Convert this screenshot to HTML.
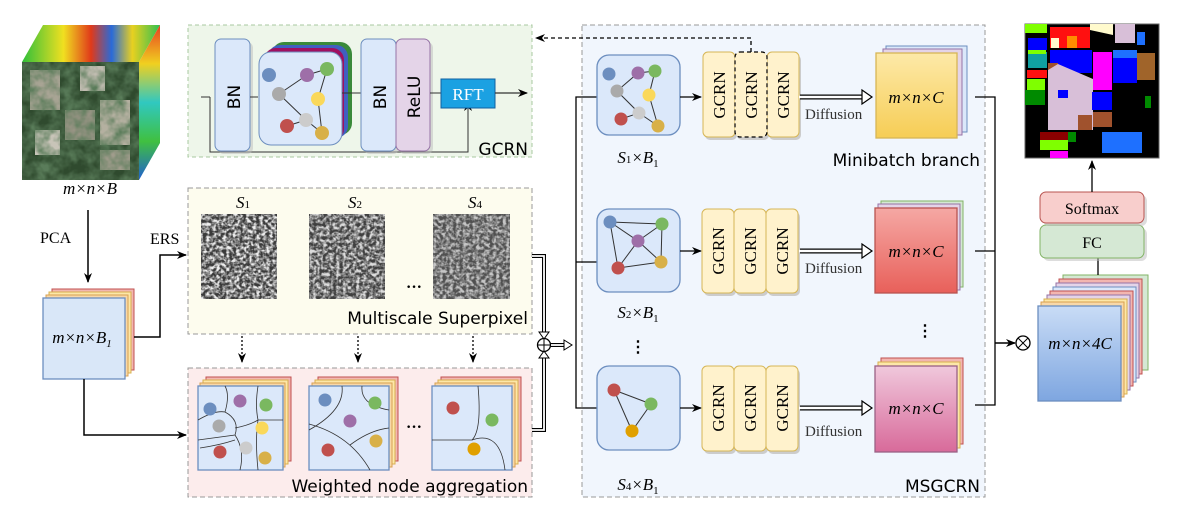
<!DOCTYPE html>
<html><head><meta charset="utf-8"><style>
html,body{margin:0;padding:0;background:#fff;}
svg{display:block;}
.it{font-family:"Liberation Serif",serif;font-style:italic;}
.sr{font-family:"Liberation Serif",serif;}
.cm{font-family:"DejaVu Sans",sans-serif;}
</style></head><body>
<svg width="1180" height="517" viewBox="0 0 1180 517" xmlns="http://www.w3.org/2000/svg">
<defs>
<marker id="ah" markerWidth="10" markerHeight="10" refX="9" refY="5" orient="auto" markerUnits="userSpaceOnUse"><path d="M0,1 L10,5 L0,9 L3,5 Z" fill="#000"/></marker>
<filter id="noise" x="0" y="0" width="100%" height="100%"><feTurbulence type="fractalNoise" baseFrequency="0.3" numOctaves="2" seed="3"/><feColorMatrix type="matrix" values="0 0 0 0 0.85  0 0 0 0 0.85  0 0 0 0 0.85  2 2 0 0 -1.6"/><feComposite operator="in" in2="SourceGraphic"/></filter>
<filter id="noise2" x="0" y="0" width="100%" height="100%"><feTurbulence type="fractalNoise" baseFrequency="0.08" numOctaves="3" seed="7"/><feColorMatrix type="matrix" values="0 0 0 0 0.1  0 0 0 0 0.2  0 0 0 0 0.1  2 0 0 0 -0.6"/><feComposite operator="in" in2="SourceGraphic"/></filter>
<linearGradient id="gy" x1="0" y1="0" x2="0" y2="1"><stop offset="0" stop-color="#fde9a8"/><stop offset="1" stop-color="#f6cd55"/></linearGradient>
<linearGradient id="gr" x1="0" y1="0" x2="0" y2="1"><stop offset="0" stop-color="#f5a8a4"/><stop offset="1" stop-color="#e8605a"/></linearGradient>
<linearGradient id="gp" x1="0" y1="0" x2="0" y2="1"><stop offset="0" stop-color="#f0c8dc"/><stop offset="1" stop-color="#d86a9a"/></linearGradient>
<linearGradient id="gb" x1="0" y1="0" x2="0" y2="1"><stop offset="0" stop-color="#c9dcf6"/><stop offset="1" stop-color="#7ea6e0"/></linearGradient>
<linearGradient id="cubetop" x1="0" y1="0" x2="1" y2="0"><stop offset="0" stop-color="#2fbf3a"/><stop offset="0.3" stop-color="#f0e020"/><stop offset="0.5" stop-color="#e03a1a"/><stop offset="0.65" stop-color="#2a6ad8"/><stop offset="0.8" stop-color="#e8d020"/><stop offset="1" stop-color="#30c050"/></linearGradient>
<linearGradient id="cubeside" x1="0" y1="0" x2="0" y2="1"><stop offset="0" stop-color="#e84020"/><stop offset="0.25" stop-color="#f0d020"/><stop offset="0.5" stop-color="#30c8c0"/><stop offset="0.75" stop-color="#40c040"/><stop offset="1" stop-color="#2060d0"/></linearGradient>
</defs>

<!-- Cube -->
<polygon points="22,62 43,25 160,25 139,62" fill="url(#cubetop)"/>
<polygon points="139,62 160,25 160,143 139,180" fill="url(#cubeside)"/>
<rect x="22" y="62" width="117" height="118" fill="#2f4a2e"/>
<rect x="30" y="70" width="30" height="40" fill="#a8a494"/><rect x="80" y="66" width="25" height="25" fill="#c0bcb0"/><rect x="65" y="110" width="30" height="30" fill="#989484"/><rect x="100" y="100" width="30" height="45" fill="#b4b0a0"/><rect x="35" y="130" width="25" height="25" fill="#c8c4b8"/><rect x="100" y="150" width="30" height="20" fill="#a09c8c"/>
<rect x="22" y="62" width="117" height="118" fill="#000" filter="url(#noise2)"/>
<text x="90" y="194" class="it" font-size="17" text-anchor="middle">m×n×B</text>

<!-- PCA -->
<text x="40" y="243" class="sr" font-size="16">PCA</text>
<line x1="88" y1="210" x2="88" y2="282" stroke="#000" stroke-width="1.5" marker-end="url(#ah)"/>

<!-- m x n x B1 stack -->
<rect x="52" y="289" width="82" height="81" fill="#f2b6b0" stroke="#c05050"/>
<rect x="49" y="292" width="82" height="81" fill="#fde7a8" stroke="#d8b050"/>
<rect x="46" y="295" width="82" height="81" fill="#f8d8a8" stroke="#d8a050"/>
<rect x="43" y="298" width="82" height="81" fill="#d9e7f8" stroke="#6c8ebf" stroke-width="1.3"/>
<text x="82" y="343" class="it" font-size="17" text-anchor="middle">m×n×B<tspan font-size="11" dy="4">1</tspan></text>

<!-- ERS path -->
<text x="150" y="244" class="sr" font-size="16">ERS</text>
<polyline points="134,337 160,337 160,255 186,255" fill="none" stroke="#000" stroke-width="1.5" marker-end="url(#ah)"/>
<polyline points="84,379 84,435 186,435" fill="none" stroke="#000" stroke-width="1.5" marker-end="url(#ah)"/>

<!-- GCRN box -->
<rect x="188" y="25" width="344" height="132" fill="#eef6ea" stroke="#a8c8a0" stroke-dasharray="4,3"/>
<polyline points="201,97 210,97" fill="none" stroke="#333" stroke-width="1"/>
<polyline points="210,97 210,152 468,152 468,102" fill="none" stroke="#333" stroke-width="1" marker-end="url(#ah)"/>
<rect x="218" y="42" width="35" height="112" rx="6" fill="#bbb" opacity="0.5"/>
<rect x="215" y="39" width="35" height="112" rx="6" fill="#dbe8fa" stroke="#6c8ebf"/>
<text transform="translate(240,97) rotate(-90)" class="cm" font-size="17" text-anchor="middle">BN</text>
<line x1="250" y1="97" x2="258" y2="97" stroke="#333"/>
<rect x="272" y="42" width="80" height="93" rx="12" fill="#3a8a3a"/>
<rect x="268" y="45" width="80" height="93" rx="12" fill="#4060c0"/>
<rect x="264" y="48" width="80" height="93" rx="12" fill="#a01060"/>
<rect x="259" y="52" width="83" height="93" rx="12" fill="#dbe8fa" stroke="#6c8ebf"/>
<g stroke="#333" stroke-width="1"><line x1="279" y1="94" x2="307" y2="75"/><line x1="307" y1="75" x2="327" y2="69"/><line x1="327" y1="69" x2="318" y2="99"/><line x1="279" y1="94" x2="306" y2="120"/><line x1="287" y1="126" x2="306" y2="120"/><line x1="306" y1="120" x2="322" y2="133"/><line x1="318" y1="99" x2="322" y2="133"/></g>
<circle cx="269" cy="75" r="7" fill="#6c8ebf"/><circle cx="307" cy="75" r="7" fill="#9e6fa8"/><circle cx="327" cy="69" r="7" fill="#7ab860"/><circle cx="279" cy="94" r="7" fill="#aaa"/><circle cx="318" cy="99" r="7" fill="#fad85a"/><circle cx="287" cy="126" r="7" fill="#c0504d"/><circle cx="306" cy="120" r="7" fill="#ccc"/><circle cx="322" cy="133" r="7" fill="#d8b048"/>
<line x1="342" y1="93" x2="361" y2="93" stroke="#333"/>
<rect x="364" y="42" width="35" height="112" rx="6" fill="#bbb" opacity="0.5"/>
<rect x="361" y="39" width="35" height="112" rx="6" fill="#dbe8fa" stroke="#6c8ebf"/>
<text transform="translate(386,97) rotate(-90)" class="cm" font-size="17" text-anchor="middle">BN</text>
<rect x="399" y="42" width="34" height="112" rx="6" fill="#bbb" opacity="0.5"/>
<rect x="396" y="39" width="34" height="112" rx="6" fill="#e4d4e8" stroke="#9673a6"/>
<text transform="translate(420,97) rotate(-90)" class="cm" font-size="17" text-anchor="middle">ReLU</text>
<line x1="430" y1="93" x2="441" y2="93" stroke="#333"/>
<rect x="441" y="79" width="54" height="29" fill="#1ba1e2" stroke="#1060a0"/>
<text x="468" y="100" class="sr" font-size="17" fill="#fff" text-anchor="middle">RFT</text>
<line x1="495" y1="93" x2="527" y2="93" stroke="#333" stroke-width="1.2" marker-end="url(#ah)"/>
<text x="528" y="155" class="cm" font-size="17" text-anchor="end">GCRN</text>

<!-- Multiscale superpixel -->
<rect x="188" y="188" width="344" height="146" fill="#fdfcee" stroke="#999" stroke-dasharray="5,3"/>
<text x="243" y="208" class="it" font-size="17" text-anchor="middle">S<tspan font-size="11" font-style="normal">1</tspan></text>
<text x="355" y="208" class="it" font-size="17" text-anchor="middle">S<tspan font-size="11" font-style="normal">2</tspan></text>
<text x="475" y="208" class="it" font-size="17" text-anchor="middle">S<tspan font-size="11" font-style="normal">4</tspan></text>
<g>
<rect x="201" y="214" width="76" height="85" fill="#3a3a3a"/><rect x="201" y="214" width="76" height="85" fill="#fff" filter="url(#noise)"/>
<rect x="309" y="214" width="76" height="85" fill="#3f3f3f"/><rect x="309" y="214" width="76" height="85" fill="#fff" filter="url(#noise)" opacity="0.9"/>
<rect x="433" y="214" width="77" height="85" fill="#505050"/><rect x="433" y="214" width="77" height="85" fill="#fff" filter="url(#noise)" opacity="0.75"/>
</g>
<text x="414" y="292" class="sr" font-size="16" font-weight="bold" text-anchor="middle">···</text>
<text x="528" y="324" class="cm" font-size="17" text-anchor="end">Multiscale Superpixel</text>

<!-- dotted arrows -->
<g stroke="#000" stroke-width="1.3" stroke-dasharray="2,2"><line x1="242" y1="336" x2="242" y2="362" marker-end="url(#ah)"/><line x1="358" y1="336" x2="358" y2="362" marker-end="url(#ah)"/><line x1="473" y1="336" x2="473" y2="362" marker-end="url(#ah)"/></g>

<!-- Weighted node aggregation -->
<rect x="188" y="368" width="344" height="129" fill="#fcecec" stroke="#999" stroke-dasharray="5,3"/>
<rect x="206" y="377" width="85" height="84" fill="#f2b6b0" stroke="#c05050"/>
<rect x="203" y="380" width="85" height="84" fill="#fde7a8" stroke="#d8b050"/>
<rect x="200" y="383" width="85" height="84" fill="#f8d8a8" stroke="#d8a050"/>
<rect x="198" y="386" width="85" height="84" fill="#dbe8fa" stroke="#6c8ebf" stroke-width="1.3"/>
<g fill="none" stroke="#333" stroke-width="0.8"><path d="M198,420 Q215,410 225,412 Q230,395 225,386"/><path d="M225,412 Q240,420 235,435 L198,440"/><path d="M235,428 Q250,425 258,420 L283,420"/><path d="M258,386 Q255,405 258,420"/><path d="M235,435 Q245,450 240,470"/><path d="M258,420 Q255,440 258,470"/><path d="M200,448 Q220,445 235,440"/></g>
<circle cx="210" cy="409" r="6.5" fill="#6c8ebf"/><circle cx="240" cy="401" r="6.5" fill="#9e6fa8"/><circle cx="266" cy="405" r="6.5" fill="#7ab860"/><circle cx="219" cy="426" r="6.5" fill="#aaa"/><circle cx="262" cy="428" r="6.5" fill="#fad85a"/><circle cx="220" cy="452" r="6.5" fill="#c0504d"/><circle cx="246" cy="448" r="6.5" fill="#ccc"/><circle cx="265" cy="458" r="6.5" fill="#d8b048"/>
<rect x="318" y="377" width="80" height="84" fill="#f2b6b0" stroke="#c05050"/>
<rect x="315" y="380" width="80" height="84" fill="#fde7a8" stroke="#d8b050"/>
<rect x="312" y="383" width="80" height="84" fill="#f8d8a8" stroke="#d8a050"/>
<rect x="309" y="386" width="80" height="84" fill="#dbe8fa" stroke="#6c8ebf" stroke-width="1.3"/>
<g fill="none" stroke="#333" stroke-width="0.8"><path d="M342,386 Q345,410 309,430"/><path d="M362,386 Q360,405 389,410"/><path d="M309,424 Q350,435 370,470"/><path d="M350,445 Q370,430 389,428"/></g>
<circle cx="325" cy="400" r="6.5" fill="#6c8ebf"/><circle cx="375" cy="403" r="6.5" fill="#7ab860"/><circle cx="350" cy="421" r="6.5" fill="#9e6fa8"/><circle cx="328" cy="450" r="6.5" fill="#c0504d"/><circle cx="376" cy="441" r="6.5" fill="#d8b048"/>
<text x="414" y="432" class="sr" font-size="16" font-weight="bold" text-anchor="middle">···</text>
<rect x="441" y="377" width="80" height="84" fill="#f2b6b0" stroke="#c05050"/>
<rect x="438" y="380" width="80" height="84" fill="#fde7a8" stroke="#d8b050"/>
<rect x="435" y="383" width="80" height="84" fill="#f8d8a8" stroke="#d8a050"/>
<rect x="432" y="386" width="80" height="84" fill="#dbe8fa" stroke="#6c8ebf" stroke-width="1.3"/>
<g fill="none" stroke="#333" stroke-width="0.8"><path d="M478,386 Q482,430 472,440 L432,440"/><path d="M472,440 Q500,430 505,470"/></g>
<circle cx="453" cy="408" r="6.5" fill="#c0504d"/><circle cx="492" cy="420" r="6.5" fill="#7ab860"/><circle cx="474" cy="449" r="6.5" fill="#e0a000"/>
<text x="528" y="492" class="cm" font-size="17" text-anchor="end">Weighted node aggregation</text>

<!-- double lines to ⊕ -->
<g fill="none" stroke="#000" stroke-width="4"><polyline points="532,256 544,256 544,334"/><polyline points="532,430 544,430 544,356"/></g>
<g fill="none" stroke="#fff" stroke-width="1.8"><polyline points="532,256 544,256 544,334"/><polyline points="532,430 544,430 544,356"/></g>
<polygon points="539,332 549,332 544,339" fill="#fff" stroke="#000"/>
<polygon points="539,358 549,358 544,351" fill="#fff" stroke="#000"/>
<circle cx="544" cy="345" r="6.5" fill="#fff" stroke="#000" stroke-width="1.3"/>
<line x1="537.5" y1="345" x2="550.5" y2="345" stroke="#000"/><line x1="544" y1="338.5" x2="544" y2="351.5" stroke="#000"/>
<line x1="551" y1="345" x2="565" y2="345" stroke="#000" stroke-width="4"/><line x1="551" y1="345" x2="566" y2="345" stroke="#fff" stroke-width="1.8"/>
<polygon points="564,340 572,345 564,350" fill="#fff" stroke="#000"/>

<!-- MSGCRN box -->
<rect x="582" y="25" width="403" height="472" fill="#f1f6fd" stroke="#999" stroke-dasharray="5,3"/>
<text x="980" y="492" class="cm" font-size="17" text-anchor="end">MSGCRN</text>
<polyline points="597,97 576,97 576,408 597,408" fill="none" stroke="#000" stroke-width="1.3"/>
<line x1="576" y1="262" x2="597" y2="262" stroke="#000" stroke-width="1.3"/>
<polyline points="751,52 751,38 536,38" fill="none" stroke="#000" stroke-width="1.3" stroke-dasharray="4,3" marker-end="url(#ah)"/>

<!-- Graph boxes -->
<rect x="597" y="55" width="83" height="80" rx="12" fill="#dbe8fa" stroke="#6c8ebf" stroke-width="1.3"/>
<g stroke="#333"><line x1="617" y1="91" x2="638" y2="73"/><line x1="638" y1="73" x2="655" y2="71"/><line x1="655" y1="71" x2="649" y2="95"/><line x1="617" y1="91" x2="639" y2="113"/><line x1="621" y1="119" x2="639" y2="113"/><line x1="639" y1="113" x2="658" y2="126"/><line x1="649" y1="95" x2="658" y2="126"/></g>
<circle cx="609" cy="74" r="6.5" fill="#6c8ebf"/><circle cx="638" cy="73" r="6.5" fill="#9e6fa8"/><circle cx="655" cy="71" r="6.5" fill="#7ab860"/><circle cx="617" cy="91" r="6.5" fill="#aaa"/><circle cx="649" cy="95" r="6.5" fill="#fad85a"/><circle cx="621" cy="119" r="6.5" fill="#c0504d"/><circle cx="639" cy="113" r="6.5" fill="#ccc"/><circle cx="658" cy="126" r="6.5" fill="#d8b048"/>
<text x="638" y="163" class="it" font-size="17" text-anchor="middle">S<tspan font-size="11" font-style="normal">1</tspan>×B<tspan font-size="11" font-style="normal" dy="4">1</tspan></text>

<rect x="597" y="209" width="83" height="83" rx="12" fill="#dbe8fa" stroke="#6c8ebf" stroke-width="1.3"/>
<g stroke="#333"><line x1="610" y1="222" x2="662" y2="224"/><line x1="610" y1="222" x2="618" y2="268"/><line x1="610" y1="222" x2="638" y2="241"/><line x1="638" y1="241" x2="662" y2="224"/><line x1="638" y1="241" x2="661" y2="262"/><line x1="638" y1="241" x2="618" y2="268"/><line x1="618" y1="268" x2="661" y2="262"/><line x1="662" y1="224" x2="661" y2="262"/></g>
<circle cx="610" cy="222" r="6.5" fill="#6c8ebf"/><circle cx="662" cy="224" r="6.5" fill="#7ab860"/><circle cx="638" cy="241" r="6.5" fill="#9e6fa8"/><circle cx="661" cy="262" r="6.5" fill="#d8b048"/><circle cx="618" cy="268" r="6.5" fill="#c0504d"/>
<text x="638" y="318" class="it" font-size="17" text-anchor="middle">S<tspan font-size="11" font-style="normal">2</tspan>×B<tspan font-size="11" font-style="normal" dy="4">1</tspan></text>
<text x="638" y="352" class="sr" font-size="16" text-anchor="middle" font-weight="bold">⋮</text>

<rect x="597" y="366" width="83" height="84" rx="12" fill="#dbe8fa" stroke="#6c8ebf" stroke-width="1.3"/>
<g stroke="#333"><line x1="614" y1="390" x2="651" y2="404"/><line x1="614" y1="390" x2="632" y2="431"/><line x1="632" y1="431" x2="651" y2="404"/></g>
<circle cx="614" cy="390" r="6.5" fill="#c0504d"/><circle cx="651" cy="404" r="6.5" fill="#7ab860"/><circle cx="632" cy="431" r="6.5" fill="#e0a000"/>
<text x="638" y="490" class="it" font-size="17" text-anchor="middle">S<tspan font-size="11" font-style="normal">4</tspan>×B<tspan font-size="11" font-style="normal" dy="4">1</tspan></text>

<g stroke="#000" stroke-width="1.3"><line x1="680" y1="97" x2="701" y2="97" marker-end="url(#ah)"/><line x1="680" y1="251" x2="701" y2="251" marker-end="url(#ah)"/><line x1="680" y1="408" x2="701" y2="408" marker-end="url(#ah)"/></g>

<!-- GCRN triples -->
<g class="sr" font-size="17">
<rect x="705" y="55" width="32" height="85" rx="5" fill="#ccc"/><rect x="737" y="55" width="32" height="85" rx="5" fill="#ccc"/><rect x="769" y="55" width="32" height="85" rx="5" fill="#ccc"/>
<rect x="703" y="52" width="32" height="85" rx="5" fill="#fff2cc" stroke="#d6b656"/>
<rect x="767" y="52" width="32" height="85" rx="5" fill="#fff2cc" stroke="#d6b656"/>
<rect x="735" y="52" width="32" height="85" rx="5" fill="#fff2cc" stroke="#000" stroke-dasharray="4,3" stroke-width="1.2"/>
<text transform="translate(725,95) rotate(-90)" text-anchor="middle">GCRN</text>
<text transform="translate(757,95) rotate(-90)" text-anchor="middle">GCRN</text>
<text transform="translate(789,95) rotate(-90)" text-anchor="middle">GCRN</text>

<rect x="704" y="212" width="32" height="84" rx="5" fill="#ccc"/><rect x="736" y="212" width="32" height="84" rx="5" fill="#ccc"/><rect x="768" y="212" width="32" height="84" rx="5" fill="#ccc"/>
<rect x="702" y="209" width="32" height="84" rx="5" fill="#fff2cc" stroke="#d6b656"/>
<rect x="734" y="209" width="32" height="84" rx="5" fill="#fff2cc" stroke="#d6b656"/>
<rect x="766" y="209" width="32" height="84" rx="5" fill="#fff2cc" stroke="#d6b656"/>
<text transform="translate(724,251) rotate(-90)" text-anchor="middle">GCRN</text>
<text transform="translate(756,251) rotate(-90)" text-anchor="middle">GCRN</text>
<text transform="translate(788,251) rotate(-90)" text-anchor="middle">GCRN</text>

<rect x="704" y="369" width="32" height="85" rx="5" fill="#ccc"/><rect x="736" y="369" width="32" height="85" rx="5" fill="#ccc"/><rect x="768" y="369" width="32" height="85" rx="5" fill="#ccc"/>
<rect x="702" y="366" width="32" height="85" rx="5" fill="#fff2cc" stroke="#d6b656"/>
<rect x="734" y="366" width="32" height="85" rx="5" fill="#fff2cc" stroke="#d6b656"/>
<rect x="766" y="366" width="32" height="85" rx="5" fill="#fff2cc" stroke="#d6b656"/>
<text transform="translate(724,408) rotate(-90)" text-anchor="middle">GCRN</text>
<text transform="translate(756,408) rotate(-90)" text-anchor="middle">GCRN</text>
<text transform="translate(788,408) rotate(-90)" text-anchor="middle">GCRN</text>
</g>

<g>
<line x1="800" y1="97" x2="863" y2="97" stroke="#000" stroke-width="5"/><line x1="799" y1="97" x2="864" y2="97" stroke="#fff" stroke-width="2.5"/><polygon points="862,90 872,97 862,104" fill="#fff" stroke="#000" stroke-width="1.2"/>
<line x1="800" y1="251" x2="863" y2="251" stroke="#000" stroke-width="5"/><line x1="799" y1="251" x2="864" y2="251" stroke="#fff" stroke-width="2.5"/><polygon points="862,244 872,251 862,258" fill="#fff" stroke="#000" stroke-width="1.2"/>
<line x1="800" y1="408" x2="863" y2="408" stroke="#000" stroke-width="5"/><line x1="799" y1="408" x2="864" y2="408" stroke="#fff" stroke-width="2.5"/><polygon points="862,401 872,408 862,415" fill="#fff" stroke="#000" stroke-width="1.2"/>
</g>
<g class="sr" font-size="15" fill="#333"><text x="805" y="119">Diffusion</text><text x="805" y="273">Diffusion</text><text x="805" y="436">Diffusion</text></g>

<rect x="886" y="46" width="81" height="86" fill="#dbe8fa" stroke="#6c8ebf"/>
<rect x="883" y="49" width="79" height="86" fill="#e4d4e8" stroke="#9673a6"/>
<rect x="876" y="53" width="81" height="85" fill="url(#gy)" stroke="#d6b656" stroke-width="1.3"/>
<text x="916" y="103" class="it" font-size="17" text-anchor="middle">m×n×C</text>
<text x="980" y="166" class="cm" font-size="17" text-anchor="end">Minibatch branch</text>

<rect x="881" y="201" width="82" height="86" fill="#d5e8d4" stroke="#82b366"/>
<rect x="878" y="204" width="82" height="86" fill="#e4d4e8" stroke="#9673a6"/>
<rect x="875" y="208" width="82" height="85" fill="url(#gr)" stroke="#b85450" stroke-width="1.3"/>
<text x="916" y="257" class="it" font-size="17" text-anchor="middle">m×n×C</text>
<text x="925" y="336" class="sr" font-size="16" font-weight="bold" text-anchor="middle">⋮</text>

<rect x="881" y="358" width="82" height="86" fill="#f2b6b0" stroke="#c05050"/>
<rect x="878" y="362" width="82" height="86" fill="#fde7a8" stroke="#d8b050"/>
<rect x="875" y="366" width="82" height="86" fill="url(#gp)" stroke="#996185" stroke-width="1.3"/>
<text x="916" y="414" class="it" font-size="17" text-anchor="middle">m×n×C</text>

<polyline points="975,97 995,97 995,405 975,405" fill="none" stroke="#000" stroke-width="1.3"/>
<line x1="975" y1="251" x2="995" y2="251" stroke="#000" stroke-width="1.3"/>
<line x1="995" y1="343" x2="1015" y2="343" stroke="#000" stroke-width="1.5" marker-end="url(#ah)"/>
<circle cx="1023" cy="343" r="7" fill="#fff" stroke="#000" stroke-width="1.3"/>
<line x1="1018" y1="338" x2="1028" y2="348" stroke="#000"/><line x1="1028" y1="338" x2="1018" y2="348" stroke="#000"/>

<rect x="1063" y="275" width="85" height="95" fill="#d5e8d4" stroke="#82b366"/>
<rect x="1059" y="279" width="83" height="95" fill="#f2b6b0" stroke="#c05050"/>
<rect x="1056" y="283" width="83" height="95" fill="#e4d4e8" stroke="#9673a6"/>
<rect x="1053" y="287" width="83" height="95" fill="#dbe8fa" stroke="#6c8ebf"/>
<rect x="1050" y="291" width="83" height="95" fill="#f2b6b0" stroke="#c05050"/>
<rect x="1047" y="295" width="83" height="95" fill="#e4d4e8" stroke="#9673a6"/>
<rect x="1044" y="299" width="83" height="95" fill="#fde7a8" stroke="#d8b050"/>
<rect x="1041" y="302" width="83" height="95" fill="#f8d8a8" stroke="#d8a050"/>
<rect x="1038" y="306" width="83" height="95" fill="url(#gb)" stroke="#6c8ebf" stroke-width="1.3"/>
<text x="1080" y="349" class="it" font-size="17" text-anchor="middle">m×n×4C</text>
<line x1="1098" y1="275" x2="1098" y2="258" stroke="#000" stroke-width="1.3"/>

<rect x="1043" y="228" width="104" height="33" rx="6" fill="#bbb" opacity="0.5"/>
<rect x="1040" y="225" width="104" height="33" rx="6" fill="#d5e8d4" stroke="#82b366"/>
<text x="1092" y="248" class="sr" font-size="16" text-anchor="middle">FC</text>
<rect x="1043" y="195" width="104" height="31" rx="6" fill="#bbb" opacity="0.5"/>
<rect x="1040" y="192" width="104" height="31" rx="6" fill="#f8cecc" stroke="#b85450"/>
<text x="1092" y="214" class="sr" font-size="16" text-anchor="middle">Softmax</text>
<line x1="1092" y1="192" x2="1092" y2="161" stroke="#000" stroke-width="1.3" marker-end="url(#ah)"/>

<g transform="translate(1025,24)">
<rect x="0" y="0" width="134" height="134" fill="#000" stroke="#666"/>
<rect x="0" y="0" width="22" height="9" fill="#7fff00"/>
<rect x="25" y="3" width="40" height="21" fill="#ff1010"/>
<rect x="42" y="12" width="10" height="12" fill="#ff8c00"/>
<rect x="26" y="14" width="8" height="10" fill="#fffacd"/>
<polygon points="65,0 88,0 88,11 65,6" fill="#fffacd"/>
<rect x="90" y="0" width="20" height="19" fill="#d8bfd8"/>
<rect x="3" y="14" width="19" height="12" fill="#0000ff"/>
<rect x="112" y="8" width="8" height="13" fill="#1e70ff"/>
<rect x="3" y="28" width="19" height="16" fill="#10a0a0"/>
<rect x="3" y="26" width="18" height="4" fill="#7fff00"/>
<rect x="25" y="26" width="42" height="23" fill="#0000ff"/>
<rect x="68" y="28" width="19" height="38" fill="#ff00ff"/>
<rect x="88" y="26" width="24" height="33" fill="#0000ff"/>
<rect x="88" y="26" width="24" height="8" fill="#1e70ff"/>
<rect x="112" y="29" width="18" height="27" fill="#a0642a"/>
<rect x="2" y="46" width="20" height="8" fill="#ff1010"/>
<rect x="2" y="55" width="18" height="11" fill="#7fff00"/>
<rect x="0" y="66" width="20" height="15" fill="#008a00"/>
<rect x="23" y="39" width="10" height="27" fill="#a0522d"/>
<polygon points="23,46 33,40 68,55 68,106 23,106" fill="#d8bfd8"/>
<rect x="33" y="66" width="10" height="8" fill="#0000ff"/>
<rect x="67" y="68" width="20" height="18" fill="#0000ff"/>
<rect x="53" y="91" width="14" height="15" fill="#a0522d"/>
<rect x="68" y="88" width="19" height="15" fill="#a0522d"/>
<rect x="77" y="108" width="40" height="21" fill="#1e70ff"/>
<rect x="15" y="108" width="28" height="8" fill="#8b0000"/>
<rect x="15" y="116" width="28" height="10" fill="#7fff00"/>
<rect x="25" y="127" width="18" height="7" fill="#ff00ff"/>
<rect x="43" y="108" width="8" height="10" fill="#008a00"/>
<rect x="120" y="72" width="6" height="12" fill="#008a00"/>
</g>
</svg>
</body></html>
